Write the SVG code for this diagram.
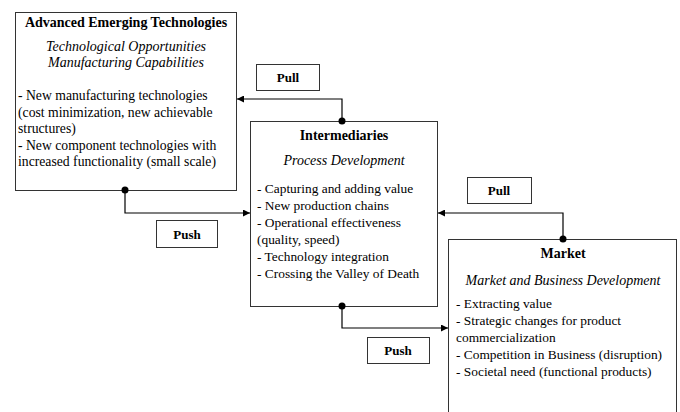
<svg xmlns="http://www.w3.org/2000/svg" width="680" height="412" viewBox="0 0 680 412">
<defs>
<style>
.box{fill:#fff;stroke:#333;stroke-width:1}
text{font-family:'Liberation Serif','DejaVu Serif',serif;fill:#000}
.h{font-size:14px;font-weight:bold;text-anchor:middle}
.i{font-size:14px;font-style:italic;text-anchor:middle}
.b{font-size:13.4px}
.b1{font-size:13.7px}
.lbl{font-size:13px;font-weight:bold;text-anchor:middle}
.c{fill:none;stroke:#000;stroke-width:1.2}
</style>
<marker id="ah" viewBox="0 0 10 10" refX="10" refY="5" markerWidth="7" markerHeight="7" orient="auto" markerUnits="userSpaceOnUse">
<path d="M0,0 L10,5 L0,10 z" fill="#000"/>
</marker>
</defs>
<rect width="680" height="412" fill="#fff"/>
<g id="tech">
<rect class="box" x="15.5" y="12.5" width="221" height="178"/>
<text class="h" x="126" y="27">Advanced Emerging Technologies</text>
<text class="i" x="126" y="51">Technological Opportunities</text>
<text class="i" x="126" y="67">Manufacturing Capabilities</text>
<text class="b1" x="18" y="100">- New manufacturing technologies</text>
<text class="b1" x="18" y="117">(cost minimization, new achievable</text>
<text class="b1" x="18" y="133">structures)</text>
<text class="b1" x="18" y="150">- New component technologies with</text>
<text class="b1" x="18" y="166">increased functionality (small scale)</text>
</g>
<g id="inter">
<rect class="box" x="250.5" y="121.5" width="187" height="185"/>
<text class="h" x="344" y="140">Intermediaries</text>
<text class="i" x="344" y="165">Process Development</text>
<text class="b" x="257" y="193">- Capturing and adding value</text>
<text class="b" x="257" y="210">- New production chains</text>
<text class="b" x="257" y="227">- Operational effectiveness</text>
<text class="b" x="257" y="244">(quality, speed)</text>
<text class="b" x="257" y="261">- Technology integration</text>
<text class="b" x="257" y="278">- Crossing the Valley of Death</text>
</g>
<g id="market">
<rect class="box" x="448.5" y="239.5" width="228" height="180"/>
<text class="h" x="563" y="258">Market</text>
<text class="i" x="563" y="285">Market and Business Development</text>
<text class="b" x="456" y="308">- Extracting value</text>
<text class="b" x="456" y="325">- Strategic changes for product</text>
<text class="b" x="456" y="342">commercialization</text>
<text class="b" x="456" y="359">- Competition in Business (disruption)</text>
<text class="b" x="456" y="376">- Societal need (functional products)</text>
</g>
<g id="pull1">
<rect class="box" x="256.5" y="64.5" width="63" height="26"/>
<text class="lbl" x="288" y="82">Pull</text>
</g>
<g id="pull2">
<rect class="box" x="467.5" y="177.5" width="64" height="26"/>
<text class="lbl" x="499" y="195">Pull</text>
</g>
<g id="push1">
<rect class="box" x="156.5" y="220.5" width="61" height="27"/>
<text class="lbl" x="187" y="239">Push</text>
</g>
<g id="push2">
<rect class="box" x="367.5" y="337.5" width="62" height="26"/>
<text class="lbl" x="398" y="355">Push</text>
</g>
<g id="connectors">
<path class="c" d="M342,121 V99 H237" marker-end="url(#ah)"/>
<circle cx="342" cy="121" r="3.5"/>
<path class="c" d="M125,190 V213 H250" marker-end="url(#ah)"/>
<circle cx="125" cy="190" r="3.5"/>
<path class="c" d="M563,239 V213 H438" marker-end="url(#ah)"/>
<circle cx="563" cy="239" r="3.5"/>
<path class="c" d="M342,306 V328 H448" marker-end="url(#ah)"/>
<circle cx="342" cy="306" r="3.5"/>
</g>
</svg>
